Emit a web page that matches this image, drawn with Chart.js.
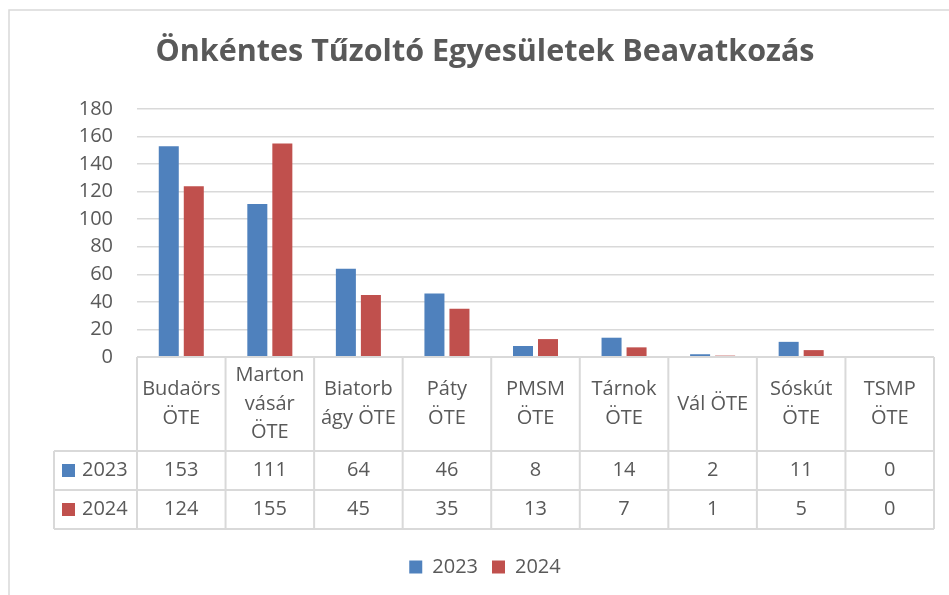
<!DOCTYPE html>
<html>
<head>
<meta charset="utf-8">
<script src="https://cdn.jsdelivr.net/npm/chart.js@4"></script>
<style>
  html, body { margin: 0; padding: 0; background: #fff; }
  #wrap { width: 949px; height: 595px; }
</style>
</head>
<body>
<div id="wrap"><canvas id="chart"></canvas></div>
<script>
// data
const categories = [
  ["Budaörs", "ÖTE"],
  ["Marton", "vásár", "ÖTE"],
  ["Biatorb", "ágy ÖTE"],
  ["Páty", "ÖTE"],
  ["PMSM", "ÖTE"],
  ["Tárnok", "ÖTE"],
  ["Vál ÖTE"],
  ["Sóskút", "ÖTE"],
  ["TSMP", "ÖTE"]
];
const values2023 = [153, 111, 64, 46, 8, 14, 2, 11, 0];
const values2024 = [124, 155, 45, 35, 13, 7, 1, 5, 0];
const seriesNames = ["2023", "2024"];
const yTicks = [0, 20, 40, 60, 80, 100, 120, 140, 160, 180];

const textColor = "#595959";
const lineColor = "#d9d9d9";
const fontFamily = "'Open Sans', sans-serif";

// draws the frame and the data table under the plot
const tablePlugin = {
  id: "dataTable",
  afterDraw(chart) {
    const ctx = chart.ctx;
    const area = chart.chartArea;
    const xs = chart.scales.x;
    const n = chart.data.labels.length;
    const colW = (area.right - area.left) / n;
    const top = area.bottom;
    const headerBottom = top + 94;
    const rowH = 39;
    const keyLeft = 54;
    const bottom = headerBottom + rowH * chart.data.datasets.length;

    ctx.save();
    // chart frame
    ctx.strokeStyle = lineColor;
    ctx.lineWidth = 1.5;
    ctx.strokeRect(9, 10, chart.width + 20, chart.height + 20);

    // grid of the table
    ctx.lineWidth = 2;
    ctx.beginPath();
    ctx.moveTo(area.left, top);
    ctx.lineTo(area.right, top);
    for (let r = 0; r <= chart.data.datasets.length; r++) {
      const y = headerBottom + r * rowH;
      ctx.moveTo(keyLeft, y);
      ctx.lineTo(area.right, y);
    }
    for (let i = 0; i <= n; i++) {
      const x = area.left + i * colW;
      ctx.moveTo(x, top);
      ctx.lineTo(x, bottom);
    }
    ctx.moveTo(keyLeft, headerBottom);
    ctx.lineTo(keyLeft, bottom);
    ctx.stroke();

    // header labels
    ctx.fillStyle = textColor;
    ctx.font = "20px " + fontFamily;
    ctx.textAlign = "center";
    ctx.textBaseline = "middle";
    const lh = 28.5;
    chart.data.labels.forEach((lab, i) => {
      const lines = Array.isArray(lab) ? lab : [lab];
      const cx = xs.getPixelForValue(i);
      const cy = (top + headerBottom) / 2;
      lines.forEach((t, k) => {
        ctx.fillText(t, cx, cy + (k - (lines.length - 1) / 2) * lh);
      });
    });

    // value rows with legend keys
    chart.data.datasets.forEach((ds, r) => {
      const cy = headerBottom + r * rowH + rowH / 2;
      ctx.fillStyle = ds.backgroundColor;
      ctx.fillRect(62, cy - 6.5, 13, 13);
      ctx.fillStyle = textColor;
      ctx.textAlign = "left";
      ctx.fillText(ds.label, 82, cy);
      ctx.textAlign = "center";
      ds.data.forEach((v, i) => {
        ctx.fillText(String(v), xs.getPixelForValue(i), cy);
      });
    });
    ctx.restore();
  }
};

new Chart(document.getElementById("chart"), {
  type: "bar",
  data: {
    labels: categories,
    datasets: [
      { label: seriesNames[0], data: values2023, backgroundColor: "#4F81BD" },
      { label: seriesNames[1], data: values2024, backgroundColor: "#C0504D" }
    ]
  },
  options: {
    responsive: true,
    maintainAspectRatio: false,
    animation: false,
    layout: { padding: { left: 36, right: 15, top: 0, bottom: 8 } },
    datasets: {
      bar: { categoryPercentage: 0.565, barPercentage: 0.8 }
    },
    plugins: {
      title: {
        display: true,
        text: "Önkéntes Tűzoltó Egyesületek Beavatkozás",
        color: textColor,
        font: { family: fontFamily, size: 30.5, weight: "bold" },
        padding: { top: 34, bottom: 38.4 }
      },
      legend: {
        position: "bottom",
        labels: {
          color: textColor,
          font: { family: fontFamily, size: 20 },
          boxWidth: 13,
          boxHeight: 13,
          padding: 14
        }
      },
      tooltip: { enabled: false }
    },
    scales: {
      x: {
        grid: { display: false },
        border: { display: false },
        ticks: { display: false },
        afterFit(scale) { scale.height = 186; }
      },
      y: {
        min: 0,
        max: yTicks[yTicks.length - 1],
        afterBuildTicks(scale) { scale.ticks = yTicks.map(v => ({ value: v })); },
        grid: { color: lineColor, lineWidth: 1.5, drawTicks: false },
        border: { display: false },
        ticks: {
          color: textColor,
          font: { family: fontFamily, size: 20 },
          padding: 24
        },
        afterFit(scale) { scale.width = 101; }
      }
    }
  },
  plugins: [tablePlugin]
});
</script>
</body>
</html>
